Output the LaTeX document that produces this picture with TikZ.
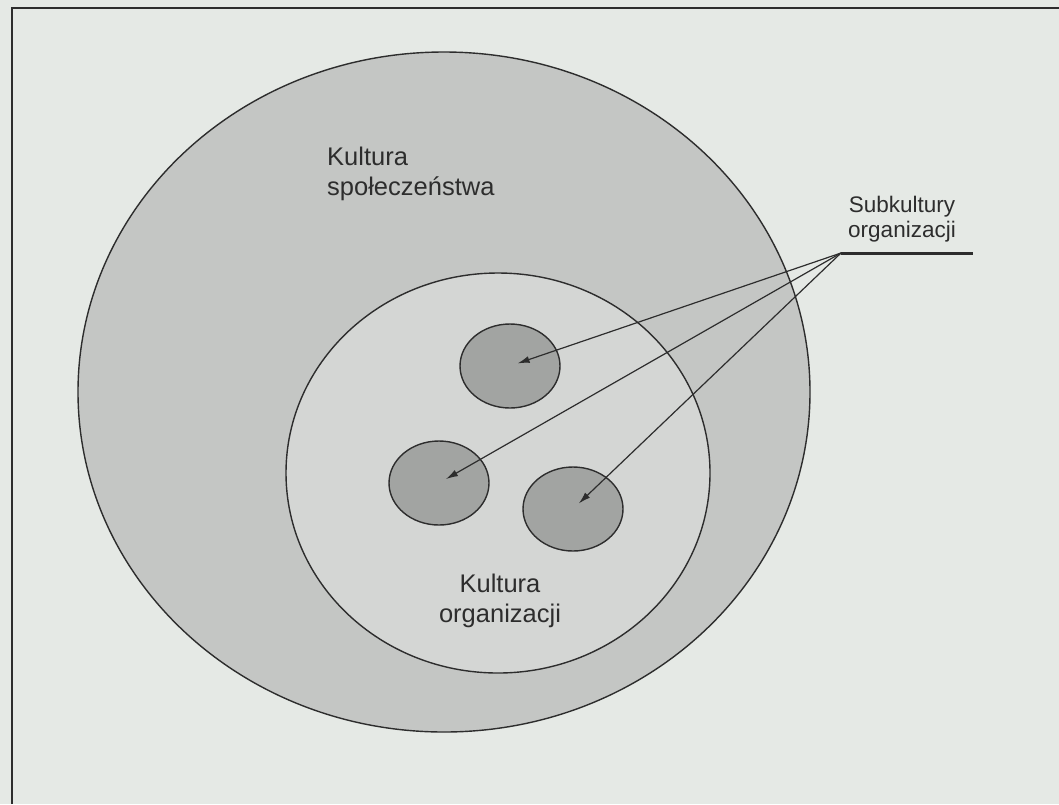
\documentclass[tikz,border=0pt]{standalone}
\usepackage{fontspec}
\setmainfont{Liberation Sans}
\usetikzlibrary{shapes.geometric,arrows.meta}
\definecolor{paper}{RGB}{229,233,229}
\definecolor{outerfill}{RGB}{196,198,196}
\definecolor{innerfill}{RGB}{212,214,212}
\definecolor{subfill}{RGB}{162,164,162}
\definecolor{ink}{RGB}{45,45,45}
\begin{document}
\begin{tikzpicture}[x=1pt,y=-1pt,
  ring/.style={draw=ink, line width=1.4pt, ellipse, inner sep=0pt},
  subc/.style={ring, fill=subfill, minimum width=100pt, minimum height=84pt},
  arr/.style={draw=ink, line width=1.2pt, -{Latex[length=12pt,width=7pt]}, shorten >=8pt},
  lbl/.style={text=ink, inner sep=0pt, font=\fontsize{25.5}{29.5}\selectfont},
  lbls/.style={text=ink, inner sep=0pt, align=center, font=\fontsize{22.5}{25}\selectfont}
]
\fill[paper] (0,0) rectangle (1059,804);
\useasboundingbox (0,0) rectangle (1059,804);
% frame
\draw[ink, line width=2pt] (12,804) -- (12,8) -- (1059,8);
% ellipses
\node[ring, fill=outerfill, minimum width=732pt, minimum height=680pt] (soc) at (444,392) {};
\node[ring, fill=innerfill, minimum width=424pt, minimum height=400pt] (org) at (498,473) {};
\node[subc] (s1) at (510,366) {};
\node[subc] (s2) at (439,483) {};
\node[subc] (s3) at (573,509) {};
% labels
\node[lbl, align=left, anchor=base west] (lsoc) at (327,195) {Kultura\\społeczeństwa};
\node[lbl, align=center, anchor=base] (lorg) at (500,622) {Kultura\\organizacji};
\node[lbls, anchor=base] (lsub) at (902,237) {Subkultury\\organizacji};
% hub and underline
\coordinate (hub) at (841,253);
\coordinate (hubend) at (973,253);
\draw[ink, line width=3pt] (hub) -- (hubend);
\draw[arr] (hub) -- (s1.center);
\draw[arr] (hub) -- (s2.center);
\draw[arr] (hub) -- (s3.center);
\end{tikzpicture}
\end{document}
